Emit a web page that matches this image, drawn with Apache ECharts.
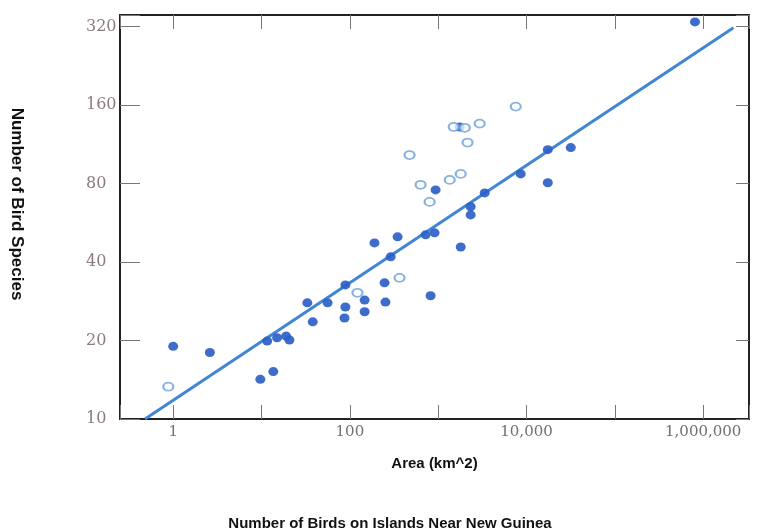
<!DOCTYPE html>
<html>
<head>
<meta charset="utf-8">
<script src="https://cdn.jsdelivr.net/npm/echarts@6/dist/echarts.min.js"></script>
<style>html,body{margin:0;padding:0;background:#fff}#c{width:780px;height:532px}</style>
</head>
<body>
<div id="c"></div>
<script>
// Filled points (area km^2, number of species)
const filledArea = [1.0, 2.6, 9.7, 13.6, 11.6, 15, 19, 20.7, 33, 38, 56, 89, 87, 147, 147, 253, 820, 89, 247, 290, 190, 347, 720, 910, 1800, 935, 2330, 2330, 3360, 8600, 17400, 17400, 31700, 807000, 1750];
const filledSpecies = [19, 18, 14.2, 15.2, 19.9, 20.5, 20.8, 20.1, 27.9, 23.6, 27.9, 26.9, 24.4, 28.6, 25.8, 28.1, 29.7, 32.7, 33.3, 41.9, 47.4, 50, 50.9, 51.8, 45.7, 75.7, 65.2, 60.7, 73.7, 87.2, 80.6, 108, 110, 334, 132];
// Open points
const openArea = [0.88, 122, 365, 800, 632, 1350, 1800, 474, 1500, 2000, 2950, 2150, 7550];
const openSpecies = [13.3, 30.5, 34.8, 68.1, 79.2, 82.7, 87.2, 103, 132, 131, 136, 115, 158];
// Fitted line endpoints
const lineArea = [0.48, 2200000];
const lineSpecies = [10, 317];
// Tick labels
const xTickLabels = ['1', '100', '10,000', '1,000,000'];
const yTickLabels = ['10', '20', '40', '80', '160', '320'];
const speciesUnit = 10; // y axis is plotted as species / 10 on a base-2 log scale

const title = 'Number of Birds on Islands Near New Guinea';
const xName = 'Area (km^2)';
const yName = 'Number of Bird Species';

const toPts = (xs, ys) => xs.map((x, i) => [x, ys[i] / speciesUnit]);

const xMin = 0.25, xMax = 3300000, yMin = 1, yMax = 35.5;

function xLabel(v) {
  const e = Math.log10(v);
  const r = Math.round(e);
  if (Math.abs(e - r) > 1e-6 || r % 2 !== 0) return '';
  const idx = r / 2;
  return xTickLabels[idx] || '';
}
function yLabel(v) {
  const e = Math.log2(v);
  const r = Math.round(e);
  if (Math.abs(e - r) > 1e-6) return '';
  return yTickLabels[r] || '';
}

const chart = echarts.init(document.getElementById('c'));
chart.setOption({
  animation: false,
  backgroundColor: '#ffffff',
  title: {
    text: title, left: 'center', top: 511,
    textStyle: { fontFamily: 'Liberation Sans', fontSize: 15, fontWeight: 'bold', color: '#111' }
  },
  grid: { left: 120, right: 31, top: 15, bottom: 113, outerBoundsMode: 'none' },
  xAxis: [{
    type: 'log', logBase: 10, min: xMin, max: xMax,
    name: xName, nameLocation: 'middle', nameGap: 37,
    nameTextStyle: { fontFamily: 'Liberation Sans', fontSize: 15, fontWeight: 'bold', color: '#111' },
    axisLine: { show: true, lineStyle: { color: '#222', width: 2 } },
    axisTick: { show: true, inside: true, length: 14, lineStyle: { color: '#777', width: 1 } },
    axisLabel: { formatter: xLabel, margin: 6, fontFamily: 'DejaVu Serif', fontSize: 15, color: '#707070', showMinLabel: true, showMaxLabel: true },
    splitLine: { show: false }, minorTick: { show: false }
  }, {
    type: 'log', logBase: 10, min: xMin, max: xMax, position: 'top',
    axisLine: { show: true, lineStyle: { color: '#222', width: 2 } },
    axisTick: { show: true, inside: true, length: 14, lineStyle: { color: '#777', width: 1 } },
    axisLabel: { show: false }, splitLine: { show: false }
  }],
  yAxis: [{
    type: 'log', logBase: 2, min: yMin, max: yMax,
    name: yName, nameLocation: 'middle', nameGap: 95, nameRotate: -90,
    nameTextStyle: { fontFamily: 'Liberation Sans', fontSize: 17, fontWeight: 'bold', color: '#111', padding: [0, 26, 28, 0] },
    axisLine: { show: true, lineStyle: { color: '#222', width: 2 } },
    axisTick: { show: true, inside: true, length: 20, lineStyle: { color: '#777', width: 1 } },
    axisLabel: { formatter: yLabel, margin: 34, align: 'left', fontFamily: 'DejaVu Serif', fontSize: 16, color: '#8c7a7e' },
    splitLine: { show: false }, minorTick: { show: false }
  }, {
    type: 'log', logBase: 2, min: yMin, max: yMax, position: 'right',
    axisLine: { show: true, lineStyle: { color: '#222', width: 2 } },
    axisTick: { show: true, inside: true, length: 13, lineStyle: { color: '#777', width: 1 } },
    axisLabel: { show: false }, splitLine: { show: false }
  }],
  series: [{
    type: 'line', xAxisIndex: 0, yAxisIndex: 0,
    data: toPts(lineArea, lineSpecies), symbol: 'none',
    lineStyle: { color: '#3f86d4', width: 3 }, z: 2
  }, {
    type: 'scatter', xAxisIndex: 0, yAxisIndex: 0,
    data: toPts(filledArea, filledSpecies), symbol: 'circle', symbolSize: [10, 9],
    itemStyle: { color: '#2e60c6', opacity: 0.92 }, z: 3
  }, {
    type: 'scatter', xAxisIndex: 0, yAxisIndex: 0,
    data: toPts(openArea, openSpecies), symbol: 'circle', symbolSize: [10, 8],
    itemStyle: { color: 'rgba(255,255,255,0.9)', borderColor: '#6aa0d8', borderWidth: 2 }, z: 3
  }]
});
</script>
</body>
</html>
